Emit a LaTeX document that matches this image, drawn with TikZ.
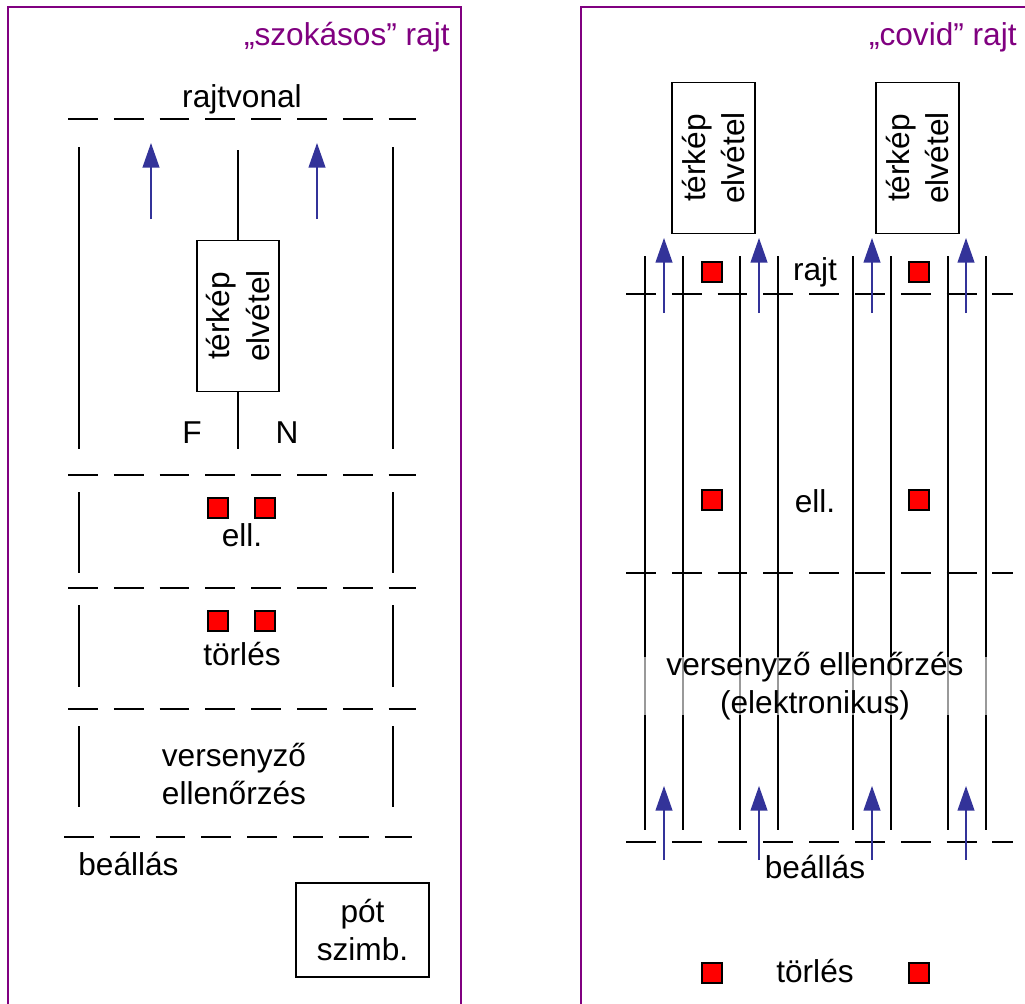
\documentclass[tikz,border=0pt]{standalone}
\usepackage{fontspec}
\setmainfont{Liberation Sans}
\usepackage{xcolor}
\usepackage{tikz}
\usetikzlibrary{positioning,arrows.meta,calc}
\definecolor{lila}{RGB}{128,0,128}
\definecolor{kek}{RGB}{51,51,153}

\begin{document}
\begin{tikzpicture}[x=0.02cm, y=-0.02cm,
  keret/.style={draw=lila, line width=1.1pt},
  cim/.style={text=lila, font=\fontsize{18}{21.5}\selectfont, anchor=base east, inner sep=0pt},
  lab/.style={font=\fontsize{18}{21.5}\selectfont, align=center, inner sep=0pt, anchor=base},
  sav/.style={line width=1pt},
  vonal/.style={line width=1pt, dash pattern=on 17pt off 9.07pt},
  doboz/.style={draw, line width=1pt, font=\fontsize{18}{22.5}\selectfont, align=center, inner sep=0pt},
  terk/.style={doboz, rotate=90, minimum width=86pt, minimum height=47pt},
  jel/.style={draw, fill=red, line width=0.9pt, minimum size=11.3pt, inner sep=0pt},
  arr/.style={kek, line width=0.8pt, -{Triangle[length=14pt, width=9.6pt]}},
]
\useasboundingbox (0,0) rectangle (1025,1004);

% ====== left panel: "szokasos" rajt ======
\draw[keret] (8,1010) -- (8,7) -- (461,7) -- (461,1010);
\node[cim] (cim1) at (450,45) {„szokásos” rajt};
\node[lab] (rajtvonal) at (242,107) {rajtvonal};

% dashed lines and lanes
\foreach \y in {119,475,588,709} \draw[vonal] (68,\y) -- (416,\y);
\draw[vonal] (64,837) -- (412,837);
\foreach \a/\b in {147/449, 492/573, 605/687, 726/807}
  \draw[sav] (79,\a) -- (79,\b) (393,\a) -- (393,\b);

% map box on the middle line
\node[terk] (terkep) at (238,316) {térkép\\elvétel};
\coordinate (kf) at (238,150);
\coordinate (ka) at (238,449);
\draw[sav] (terkep.east) -- (kf);
\draw[sav] (terkep.west) -- (ka);
\node[lab] (f) at (192,443) {F};
\node[lab] (n) at (287,443) {N};

\foreach \x [count=\i] in {151,317} {
  \coordinate (la\i) at (\x,219);
  \coordinate (lb\i) at (\x,143);
  \draw[arr] (la\i) -- (lb\i);
}

% checks
\node[jel] (e1) at (218,508) {};
\node[jel] (e2) at (265,508) {};
\node[lab] (ell1) at (242,546) {ell.};
\node[jel] (t1) at (218,621) {};
\node[jel] (t2) at (265,621) {};
\node[lab] (torl1) at (242,665) {törlés};
\node[lab] (vers1) at (234,804) {versenyző\\ellenőrzés};

\node[lab, anchor=base west] (beall1) at (78,875) {beállás};
\node[doboz, font=\fontsize{18}{21.5}\selectfont, minimum width=75.4pt, minimum height=53.3pt] (pot) at (362.5,930) {pót\\szimb.};

% ====== right panel: "covid" rajt ======
\draw[keret] (581,1010) -- (581,7) -- (1030,7);
\node[cim] (cim2) at (1017,45) {„covid” rajt};

\node[terk] (tk1) at (713.5,158) {térkép\\elvétel};
\node[terk] (tk2) at (917.5,158) {térkép\\elvétel};

\foreach \x in {645,683,740,778,853,891,948,986} \draw[sav] (\x,256) -- (\x,830);
\foreach \y in {294,573,842} \draw[vonal] (626,\y) -- (1013,\y);

\foreach \x [count=\i] in {664,759,872,966} {
  \coordinate (ra\i) at (\x,313);
  \coordinate (rb\i) at (\x,238);
  \draw[arr] (ra\i) -- (rb\i);
  \coordinate (sa\i) at (\x,860);
  \coordinate (sb\i) at (\x,786);
  \draw[arr] (sa\i) -- (sb\i);
}

\node[jel] (r1) at (712,272) {};
\node[jel] (r2) at (919,272) {};
\node[lab] (rajt) at (815,280) {rajt};
\node[jel] (r3) at (712,500) {};
\node[jel] (r4) at (919,500) {};
\node[lab] (ell2) at (815,512) {ell.};
\node[lab, fill=white, fill opacity=0.6, text opacity=1, minimum width=195.6pt,
      text height=31.8pt, text depth=1.1pt] (vers2) at (815,713)
      {versenyző ellenőrzés\\(elektronikus)};
\node[lab] (beall2) at (815,878) {beállás};
\node[jel] (r5) at (712,973) {};
\node[jel] (r6) at (919,973) {};
\node[lab] (torl2) at (815,982) {törlés};

\end{tikzpicture}
\end{document}
